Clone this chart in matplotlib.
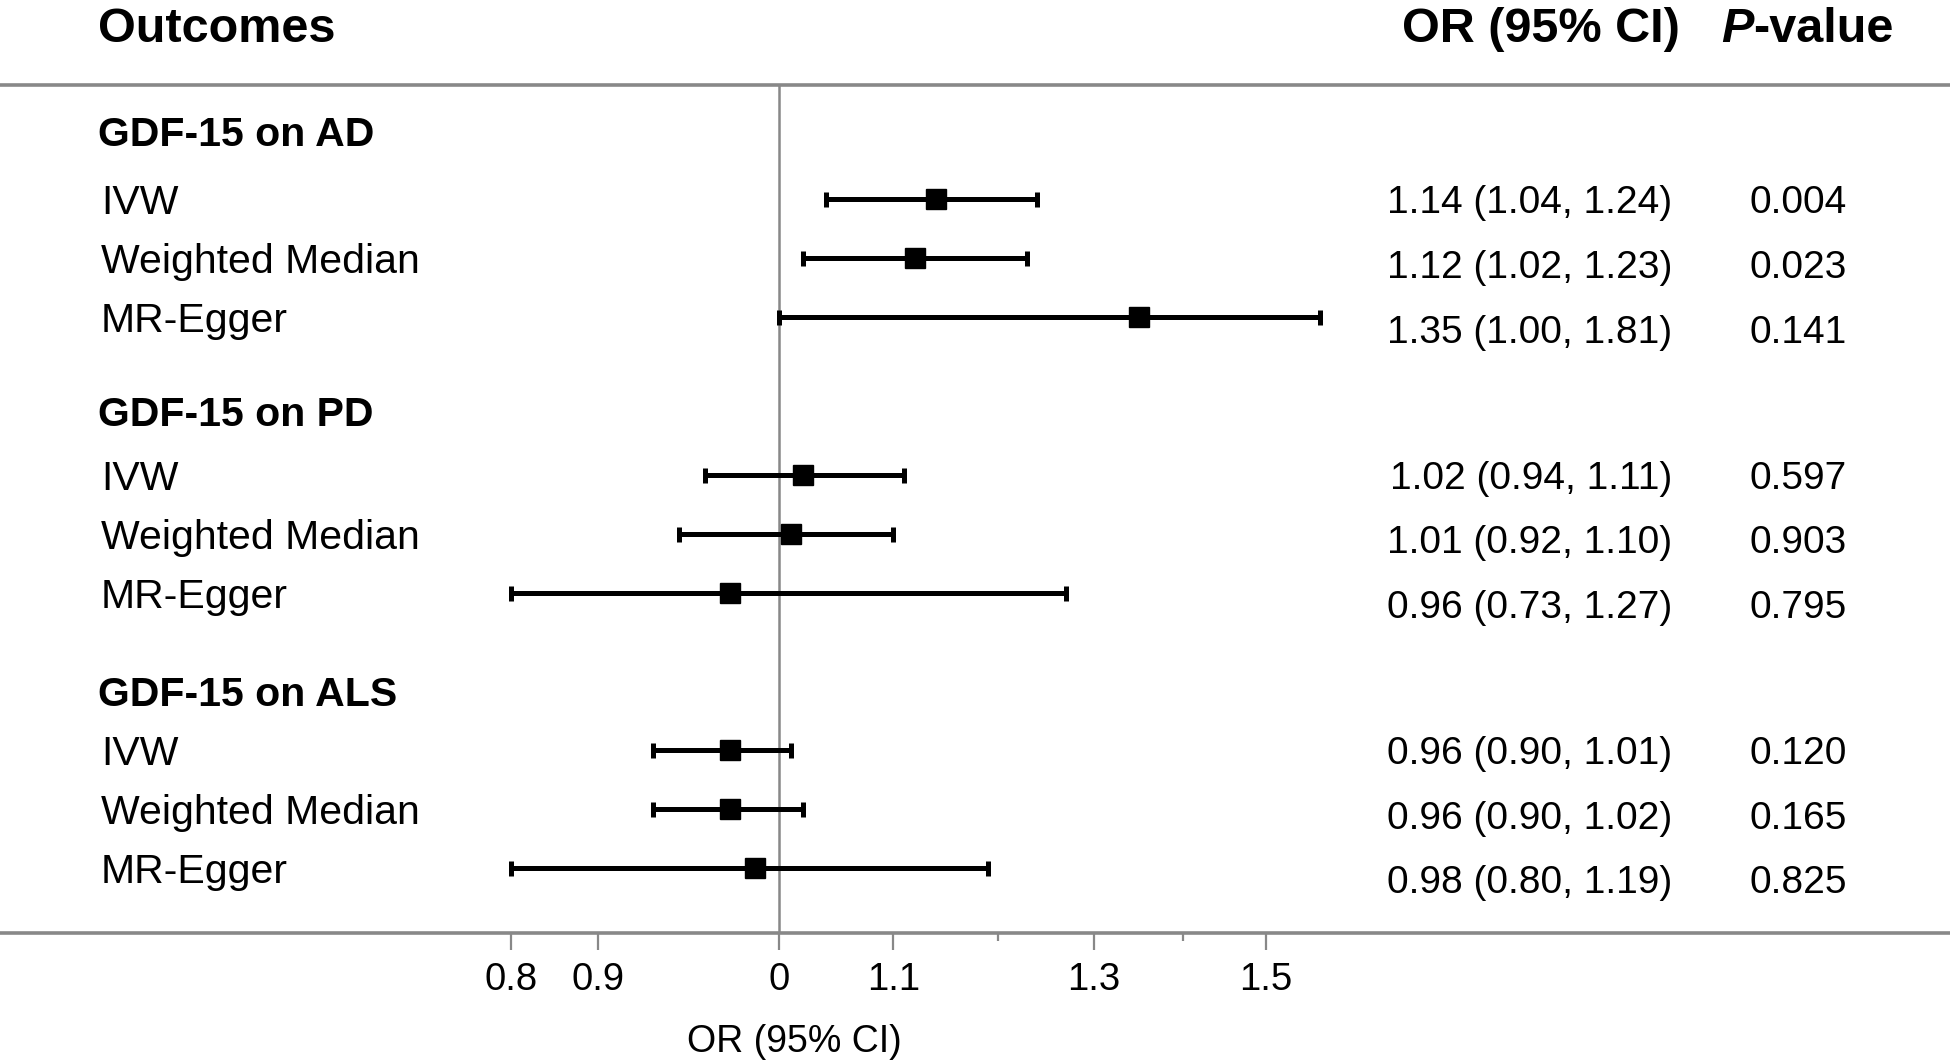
import numpy as np
import matplotlib
matplotlib.use("Agg")
import matplotlib.pyplot as plt
from matplotlib.transforms import blended_transform_factory
from matplotlib.ticker import FixedLocator, NullFormatter

# data
groups = ["GDF-15 on AD", "GDF-15 on PD", "GDF-15 on ALS"]
methods = ["IVW", "Weighted Median", "MR-Egger"]

or_ad = [1.14, 1.12, 1.35]
lo_ad = [1.04, 1.02, 1.00]
hi_ad = [1.24, 1.23, 1.81]
p_ad = ["0.004", "0.023", "0.141"]

or_pd = [1.02, 1.01, 0.96]
lo_pd = [0.94, 0.92, 0.73]
hi_pd = [1.11, 1.10, 1.27]
p_pd = ["0.597", "0.903", "0.795"]

or_als = [0.96, 0.96, 0.98]
lo_als = [0.90, 0.90, 0.80]
hi_als = [1.01, 1.02, 1.19]
p_als = ["0.120", "0.165", "0.825"]

tick_vals = [0.8, 0.86, 1.0, 1.1, 1.3, 1.5]
tick_labels = ["0.8", "0.9", "0", "1.1", "1.3", "1.5"]
minor_vals = [1.2, 1.4]

# CI bars were cut at the plot window
clip_lo, clip_hi = 0.8, 1.57

plt.rcParams["font.family"] = ["Liberation Sans", "DejaVu Sans"]

W, H = 1950, 1063
fig = plt.figure(figsize=(W / 100, H / 100), dpi=100)
ax = fig.add_axes([0, 1 - 933 / H, 1, (933 - 85) / H])

ax.set_xscale("log")
ax.set_xlim(0.5225, 2.653)
ax.set_ylim(13.51, -0.72)

gray = "#888888"
for s in ["left", "right"]:
    ax.spines[s].set_visible(False)
for s in ["top", "bottom"]:
    ax.spines[s].set_color(gray)
    ax.spines[s].set_linewidth(2.6)

ax.axvline(1.0, color=gray, lw=1.8, zorder=1)

ax.xaxis.set_major_locator(FixedLocator(tick_vals))
ax.set_xticklabels(tick_labels)
ax.xaxis.set_minor_locator(FixedLocator(minor_vals))
ax.xaxis.set_minor_formatter(NullFormatter())
ax.tick_params(axis="x", which="major", length=12, width=1.6, color=gray,
               labelsize=27.5, pad=9)
ax.tick_params(axis="x", which="minor", length=6, width=1.6, color=gray)
ax.set_yticks([])

lab_tr = blended_transform_factory(fig.transFigure, ax.transData)

all_or = [or_ad, or_pd, or_als]
all_lo = [lo_ad, lo_pd, lo_als]
all_hi = [hi_ad, hi_pd, hi_als]
all_p = [p_ad, p_pd, p_als]

for g in range(len(groups)):
    rows = 1.2 + g * 4.62 + np.arange(len(methods)) * 0.99
    est = np.array(all_or[g])
    lo = np.clip(all_lo[g], clip_lo, clip_hi)
    hi = np.clip(all_hi[g], clip_lo, clip_hi)
    ax.errorbar(est, rows, xerr=[est - lo, hi - est], fmt="s", color="black",
                ms=15, elinewidth=3.6, capsize=5.4, capthick=3.6, zorder=3)

    fig.text(98 / W, 0.05 + g * 4.7, groups[g], transform=lab_tr,
             fontsize=29.5, fontweight="bold", ha="left", va="center_baseline")
    num_rows = rows[0] + np.arange(len(methods)) * 1.085
    for k in range(len(methods)):
        fig.text(101 / W, rows[k], methods[k], transform=lab_tr,
                 fontsize=29.5, ha="left", va="center_baseline")
        txt = "%.2f (%.2f, %.2f)" % (all_or[g][k], all_lo[g][k], all_hi[g][k])
        fig.text(1672 / W, num_rows[k], txt, transform=lab_tr,
                 fontsize=28, ha="right", va="center_baseline")
        fig.text(1847 / W, num_rows[k], all_p[g][k], transform=lab_tr,
                 fontsize=28, ha="right", va="center_baseline")

# column headers
fig.text(98 / W, 1 - 24 / H, "Outcomes", fontsize=35, fontweight="bold",
         ha="left", va="center_baseline")
fig.text(1680 / W, 1 - 24 / H, "OR (95% CI)", fontsize=35, fontweight="bold",
         ha="right", va="center_baseline")
p_txt = fig.text(1721 / W, 1 - 24 / H, "P", fontsize=35, fontweight="bold",
                 fontstyle="italic", ha="left", va="center_baseline")
fig.canvas.draw()
bb = p_txt.get_window_extent()
fig.text(bb.x1 / W, 1 - 24 / H, "-value", fontsize=35, fontweight="bold",
         ha="left", va="center_baseline")

fig.text(794 / W, 1 - 1042 / H, "OR (95% CI)", fontsize=27, ha="center", va="center")

fig.savefig("out.png", dpi=100)
